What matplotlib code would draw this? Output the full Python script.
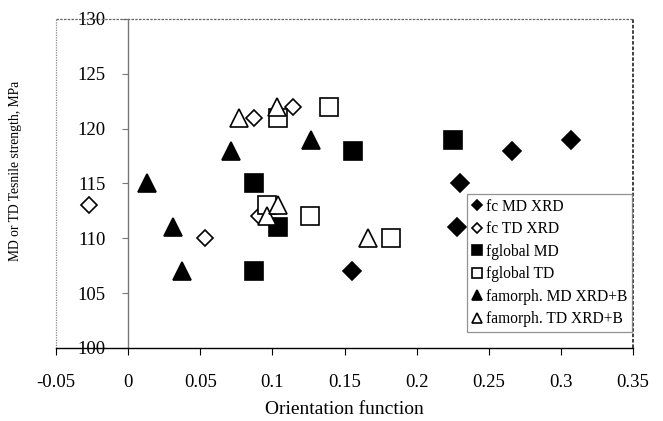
import matplotlib
matplotlib.use('Agg')
import matplotlib.pyplot as plt
import numpy as np

plt.rcParams['font.family'] = ['Liberation Serif', 'DejaVu Serif']

# data
fc_md_x = [0.155, 0.228, 0.230, 0.266, 0.307]
fc_md_y = [107, 111, 115, 118, 119]
fc_td_x = [-0.027, 0.053, 0.087, 0.091, 0.114]
fc_td_y = [113, 110, 121, 112, 122]
fglobal_md_x = [0.087, 0.087, 0.104, 0.156, 0.225]
fglobal_md_y = [115, 107, 111, 118, 119]
fglobal_td_x = [0.096, 0.104, 0.126, 0.139, 0.182]
fglobal_td_y = [113, 121, 112, 122, 110]
famorph_md_x = [0.013, 0.031, 0.037, 0.071, 0.127]
famorph_md_y = [115, 111, 107, 118, 119]
famorph_td_x = [0.077, 0.103, 0.096, 0.104, 0.166]
famorph_td_y = [121, 122, 112, 113, 110]

labels = ['fc MD XRD', 'fc TD XRD', 'fglobal MD', 'fglobal TD',
          'famorph. MD XRD+B', 'famorph. TD XRD+B']
xticks = [-0.05, 0, 0.05, 0.1, 0.15, 0.2, 0.25, 0.3, 0.35]
xtick_labels = ['-0.05', '0', '0.05', '0.1', '0.15', '0.2', '0.25', '0.3', '0.35']
yticks = [100, 105, 110, 115, 120, 125, 130]

fig = plt.figure(figsize=(6.63, 4.21), dpi=100)
ax = fig.add_axes([0.0845, 0.1734, 0.8703, 0.7815])

series = [
    (fc_md_x, fc_md_y, 'D', 'black', 8.8),
    (fc_td_x, fc_td_y, 'D', 'white', 8.2),
    (fglobal_md_x, fglobal_md_y, 's', 'black', 13),
    (fglobal_td_x, fglobal_td_y, 's', 'white', 12.5),
    (famorph_md_x, famorph_md_y, '^', 'black', 13),
    (famorph_td_x, famorph_td_y, '^', 'white', 13),
]
for (x, y, m, fc, ms), lab in zip(series, labels):
    ax.plot(x, y, linestyle='none', marker=m, markersize=ms,
            markerfacecolor=fc, markeredgecolor='black',
            markeredgewidth=1.2, label=lab, clip_on=False)

ax.set_xlim(-0.05, 0.35)
ax.set_ylim(100, 130)
ax.set_xticks(xticks)
ax.set_xticklabels(xtick_labels)
ax.set_yticks(yticks)

ax.spines['left'].set_position(('data', 0))
ax.spines['left'].set_color('#777777')
ax.spines['left'].set_linewidth(1.0)
ax.spines['bottom'].set_linewidth(1.0)
ax.spines['top'].set_visible(False)
ax.spines['right'].set_visible(False)

# plot area border like the spreadsheet frame
ax.plot([0, 0], [0, 1], transform=ax.transAxes, color='#888888',
        lw=0.9, ls=(0, (1, 1)), clip_on=False)
ax.plot([0, 1], [1, 1], transform=ax.transAxes, color='#666666',
        lw=0.9, ls=(0, (2, 1)), clip_on=False)
ax.plot([1, 1], [0, 1], transform=ax.transAxes, color='#333333',
        lw=1.3, ls=(0, (2, 1)), clip_on=False)

ax.tick_params(axis='x', direction='out', length=5, width=0.8,
               labelsize=13.5, pad=14)
ax.tick_params(axis='y', direction='out', length=4, width=0.8,
               labelsize=13.5, pad=12, color='#777777')

ax.set_xlabel('Orientation function', fontsize=14, labelpad=7)
fig.text(0.023, 0.595, 'MD or TD Tesnile strength, MPa', rotation=90,
         fontsize=9.8, ha='center', va='center')

leg = ax.legend(loc='upper left', bbox_to_anchor=(0.712, 0.468),
                fontsize=11.2, markerscale=0.6, handlelength=0.7,
                handletextpad=0.2, labelspacing=0.42, borderpad=0.3,
                borderaxespad=0, fancybox=False, frameon=True)
leg.get_frame().set_edgecolor('#777777')
leg.get_frame().set_linewidth(0.9)

fig.savefig('out.png', dpi=100)
